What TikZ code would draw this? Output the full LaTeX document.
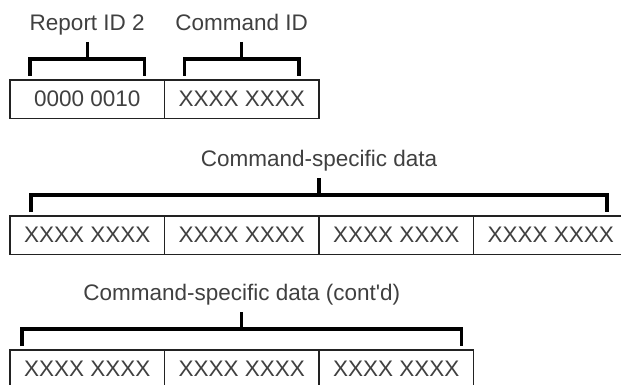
\documentclass[tikz,border=0pt]{standalone}
\usepackage{fontspec}
\setmainfont{Liberation Sans}[Ligatures=TeXOff]
\usepackage{tikz}
\usetikzlibrary{positioning,calc}
\definecolor{boxgray}{RGB}{ 34, 34, 34}
\definecolor{txtgray}{RGB}{ 64, 64, 64}
\newcommand\tagfont{\fontsize{22.5}{27}\selectfont}

\begin{document}
\begin{tikzpicture}[x=1pt, y=-1pt,
  cell/.style={rectangle, draw=boxgray, line width=1.2pt, fill=white,
               minimum width=154.5pt, minimum height=38.5pt,
               inner sep=0pt, outer sep=0pt, text=txtgray, font=\tagfont},
  tag/.style={text=txtgray, font=\tagfont, inner sep=6.5pt,
              text height=17pt, text depth=5pt},
  brk/.style={line width=3.2pt, black}
]
  \useasboundingbox (0,0) rectangle (621,385);

  % header: report id + command id
  \node[cell, anchor=north west] (b1) at (10,80) {0000 0010};
  \node[cell, right=0pt of b1]   (b2) {XXXX XXXX};

  \node[tag, above=38pt of b1] (rid) {Report ID 2};
  \node[tag, above=38pt of b2] (cid) {Command ID};

  \draw[brk] (rid.south) -- ++(0,17);
  \draw[brk] ([xshift=20pt,yshift=4pt]b1.north west) -- ++(0,-17)
             -| ([xshift=-20pt,yshift=4pt]b1.north east);
  \draw[brk] (cid.south) -- ++(0,17);
  \draw[brk] ([xshift=20pt,yshift=4pt]b2.north west) -- ++(0,-17)
             -| ([xshift=-20pt,yshift=4pt]b2.north east);

  % command-specific data
  \node[cell, anchor=north west] (c1) at (10,216) {XXXX XXXX};
  \node[cell, right=0pt of c1]   (c2) {XXXX XXXX};
  \node[cell, right=0pt of c2]   (c3) {XXXX XXXX};
  \node[cell, right=0pt of c3]   (c4) {XXXX XXXX};

  \coordinate (cmid) at ($(c1.north)!0.5!(c4.north)$);
  \node[tag, above=38pt of cmid] (csd) {Command-specific data};

  \draw[brk] (csd.south) -- ++(0,17);
  \draw[brk] ([xshift=21pt,yshift=4pt]c1.north west) -- ++(0,-17)
             -| ([xshift=-21pt,yshift=4pt]c4.north east);

  % command-specific data, continued
  \node[cell, anchor=north west] (d1) at (10,350) {XXXX XXXX};
  \node[cell, right=0pt of d1]   (d2) {XXXX XXXX};
  \node[cell, right=0pt of d2]   (d3) {XXXX XXXX};

  \coordinate (dmid) at ($(d1.north)!0.5!(d3.north)$);
  \node[tag, above=38pt of dmid] (csc) {Command-specific data (cont'd)};

  \draw[brk] (csc.south) -- ++(0,17);
  \draw[brk] ([xshift=12pt,yshift=4pt]d1.north west) -- ++(0,-17)
             -| ([xshift=-12pt,yshift=4pt]d3.north east);
\end{tikzpicture}
\end{document}
